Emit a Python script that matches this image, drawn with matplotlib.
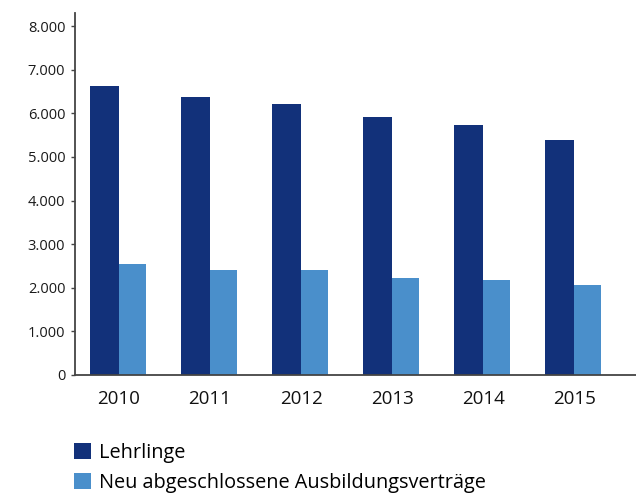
import matplotlib.pyplot as plt
import numpy as np

years = ["2010", "2011", "2012", "2013", "2014", "2015"]
lehrlinge = [6630, 6380, 6215, 5917, 5734, 5390]
neu_vertraege = [2546, 2408, 2408, 2225, 2179, 2064]
y_ticks = [0, 1000, 2000, 3000, 4000, 5000, 6000, 7000, 8000]
y_labels = ["0", "1.000", "2.000", "3.000", "4.000", "5.000", "6.000", "7.000", "8.000"]

plt.rcParams['font.family'] = ['Open Sans', 'DejaVu Sans']

dark = "#12317A"
light = "#4A8FCB"

fig = plt.figure(figsize=(6.36, 4.93), dpi=100)
ax = fig.add_axes([75 / 636, 1 - 375 / 493, 1 - 75 / 636, (375 - 12.5) / 493])

x = np.arange(len(years))
ax.bar(x - 0.16, lehrlinge, width=0.32, color=dark, label="Lehrlinge")
ax.bar(x + 0.15, neu_vertraege, width=0.30, color=light,
       label="Neu abgeschlossene Ausbildungsverträge")

ax.set_xlim(-0.484, 5.68)
ax.set_ylim(0, 8310)
ax.set_yticks(y_ticks)
ax.set_yticklabels(y_labels, fontsize=10.5, color="#1a1a1a")
ax.set_xticks(x)
ax.set_xticklabels(years, fontsize=13.5, color="#111111")
ax.tick_params(axis='x', length=0, pad=11)
ax.tick_params(axis='y', length=3, width=1, color="#444444", pad=4)

for side in ["top", "right"]:
    ax.spines[side].set_visible(False)
for side in ["left", "bottom"]:
    ax.spines[side].set_color("#444444")
    ax.spines[side].set_linewidth(1.3)

handles, labels = ax.get_legend_handles_labels()
fig.legend(handles, labels, loc="upper left", bbox_to_anchor=(74 / 636, 1 - 443 / 493),
           frameon=False, fontsize=14.3, handlelength=0.85, handleheight=0.85,
           handletextpad=0.4, labelspacing=0.5, borderaxespad=0, borderpad=0)

fig.savefig("out.png", dpi=100)
